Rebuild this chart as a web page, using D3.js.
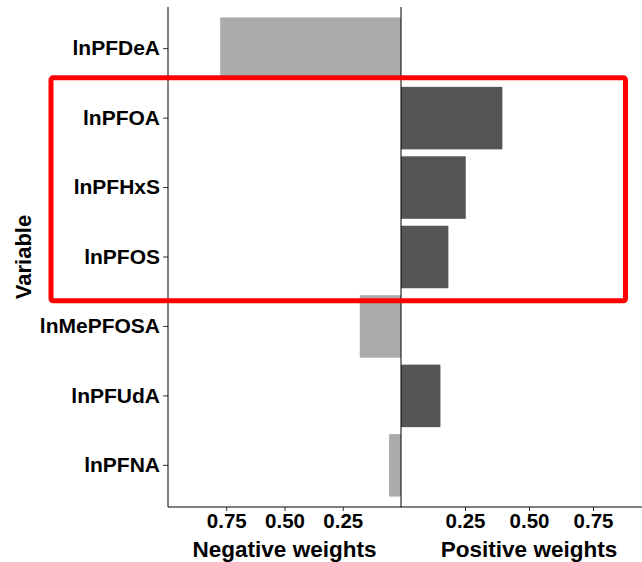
<!DOCTYPE html>
<html lang="en">
<head>
  <meta charset="UTF-8">
  <title>Weights by variable</title>
  <script src="https://d3js.org/d3.v7.min.js"></script>
  <style>
    body { margin: 0; background: #fff; }
    text { font-family: "Liberation Sans", Arial, sans-serif; font-weight: bold; fill: #000; }
  </style>
</head>
<body>

<svg id="chart" width="642" height="562"></svg>

<script>
  // categories, top to bottom
  var variables = ['lnPFDeA', 'lnPFOA', 'lnPFHxS', 'lnPFOS', 'lnMePFOSA', 'lnPFUdA', 'lnPFNA'];
  // weights (0 = not in that panel)
  var negWeights = [0.776, 0, 0, 0, 0.177, 0, 0.051];
  var posWeights = [0, 0.396, 0.253, 0.185, 0, 0.154, 0];
  var negTicks = [0.75, 0.50, 0.25];
  var posTicks = [0.25, 0.50, 0.75];
  var boxed = ['lnPFOA', 'lnPFHxS', 'lnPFOS'];

  var svg = d3.select('#chart');
  var pTop = 7, pBottom = 507, pLeft = 168, pMid = 401, pRight = 657;

  var y = d3.scaleBand()
    .domain(variables)
    .range([pTop, pBottom])
    .paddingInner(0.1)
    .paddingOuter(0.15);

  // left panel: negative weights, reversed
  var xNeg = d3.scaleLinear().domain([1, 0]).range([pLeft, pMid]);
  // right panel: positive weights
  var xPos = d3.scaleLinear().domain([0, 1]).range([pMid, pRight]);

  var negData = variables.map(function (v, i) { return { v: v, w: negWeights[i] }; }).filter(function (d) { return d.w > 0; });
  var posData = variables.map(function (v, i) { return { v: v, w: posWeights[i] }; }).filter(function (d) { return d.w > 0; });

  svg.selectAll('rect.neg')
    .data(negData)
    .enter()
    .append('rect')
    .attr('class', 'neg')
    .attr('x', function (d) { return xNeg(d.w); })
    .attr('y', function (d) { return y(d.v); })
    .attr('width', function (d) { return xNeg(0) - xNeg(d.w); })
    .attr('height', y.bandwidth())
    .style('fill', '#ababab');

  svg.selectAll('rect.pos')
    .data(posData)
    .enter()
    .append('rect')
    .attr('class', 'pos')
    .attr('x', xPos(0))
    .attr('y', function (d) { return y(d.v); })
    .attr('width', function (d) { return xPos(d.w) - xPos(0); })
    .attr('height', y.bandwidth())
    .style('fill', '#555555');

  // y axis (left panel only shows labels)
  var yAxis = svg.append('g')
    .attr('transform', 'translate(' + pLeft + ',0)')
    .call(d3.axisLeft(y).tickSize(5).tickPadding(3));
  yAxis.select('.domain').remove();
  yAxis.selectAll('line').attr('stroke', '#333');
  yAxis.selectAll('text').style('font-size', '21px').attr('fill', '#000');

  // bottom axes
  function styleX(g) {
    g.select('.domain').remove();
    g.selectAll('line').attr('stroke', '#333');
    g.selectAll('text').style('font-size', '20.5px').attr('fill', '#000');
  }
  svg.append('g')
    .attr('transform', 'translate(0,' + pBottom + ')')
    .call(d3.axisBottom(xNeg).tickValues(negTicks).tickFormat(d3.format('.2f')).tickSize(4).tickPadding(2))
    .call(styleX);
  svg.append('g')
    .attr('transform', 'translate(0,' + pBottom + ')')
    .call(d3.axisBottom(xPos).tickValues(posTicks).tickFormat(d3.format('.2f')).tickSize(4).tickPadding(2))
    .call(styleX);

  // axis lines
  svg.append('line').attr('x1', pLeft).attr('x2', pLeft).attr('y1', pTop).attr('y2', pBottom).attr('stroke', '#000');
  svg.append('line').attr('x1', pMid).attr('x2', pMid).attr('y1', pTop).attr('y2', pBottom).attr('stroke', '#000');
  svg.append('line').attr('x1', pLeft).attr('x2', 642).attr('y1', pBottom).attr('y2', pBottom).attr('stroke', '#000');

  // titles
  svg.append('text')
    .attr('x', (pLeft + pMid) / 2)
    .attr('y', 557)
    .attr('text-anchor', 'middle')
    .style('font-size', '22.5px')
    .text('Negative weights');
  svg.append('text')
    .attr('x', (pMid + pRight) / 2)
    .attr('y', 557)
    .attr('text-anchor', 'middle')
    .style('font-size', '22.5px')
    .text('Positive weights');
  svg.append('text')
    .attr('transform', 'translate(31,' + (pTop + pBottom) / 2 + ') rotate(-90)')
    .attr('text-anchor', 'middle')
    .style('font-size', '22px')
    .text('Variable');

  // red highlight box around the boxed variables
  var boxTop = y(boxed[0]) - y.step() * 0.13;
  var boxBottom = y(boxed[boxed.length - 1]) + y.bandwidth() + y.step() * 0.18;
  svg.append('rect')
    .attr('x', 51)
    .attr('y', boxTop)
    .attr('width', 625.5 - 51)
    .attr('height', boxBottom - boxTop)
    .attr('rx', 2)
    .attr('fill', 'none')
    .attr('stroke', '#ff0000')
    .attr('stroke-width', 5);
</script>

</body>
</html>
